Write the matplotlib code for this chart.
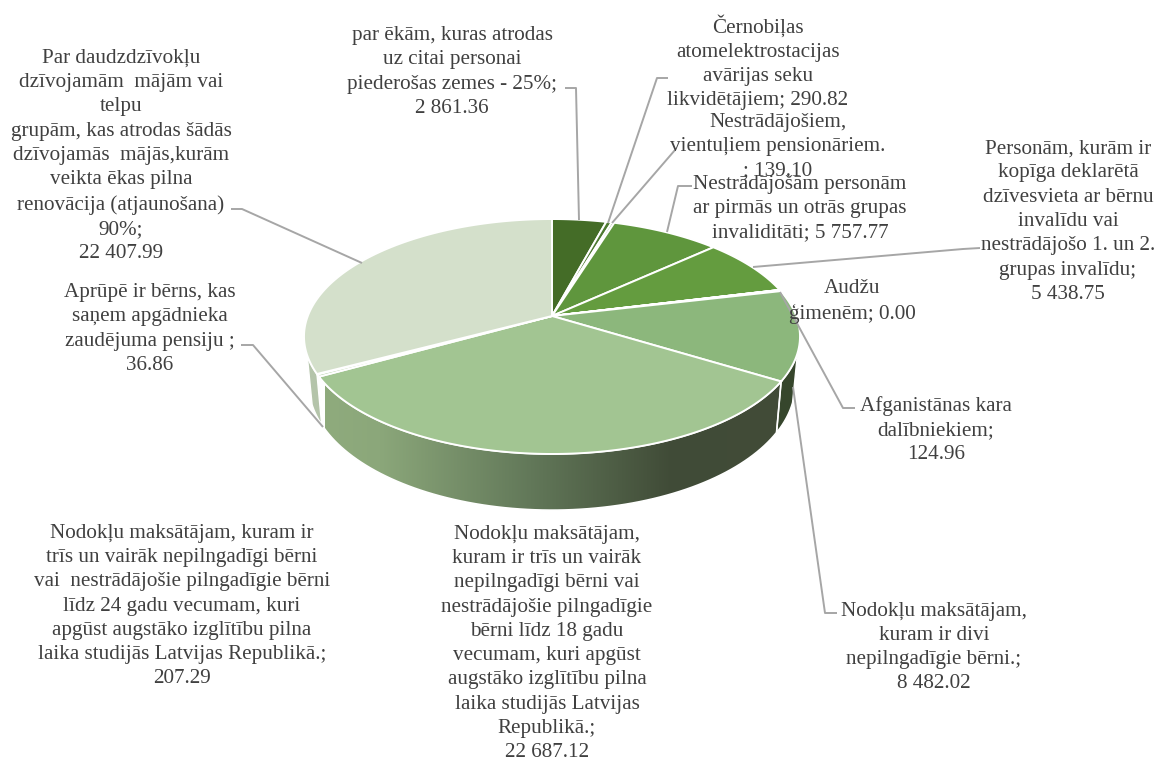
import numpy as np
import matplotlib
matplotlib.use("Agg")
import matplotlib.pyplot as plt
from matplotlib.path import Path
from matplotlib.transforms import Transform, Affine2D

# ---- data ----
values = [2861.36, 290.82, 139.10, 5757.77, 5438.75, 0.00, 124.96,
          8482.02, 22687.12, 207.29, 36.86, 22407.99]
labels = [
    "par ēkām, kuras atrodas\nuz citai personai\npiederošas zemes - 25%;\n2 861.36",
    "Černobiļas\natomelektrostacijas\navārijas seku\nlikvidētājiem; 290.82",
    "Nestrādājošiem,\nvientuļiem pensionāriem.\n; 139.10",
    "Nestrādājošām personām\nar pirmās un otrās grupas\ninvaliditāti; 5 757.77",
    "Personām, kurām ir\nkopīga deklarētā\ndzīvesvieta ar bērnu\ninvalīdu vai\nnestrādājošo 1. un 2.\ngrupas invalīdu;\n5 438.75",
    "Audžu\nģimenēm; 0.00",
    "Afganistānas kara\ndalībniekiem;\n124.96",
    "Nodokļu maksātājam,\nkuram ir divi\nnepilngadīgie bērni.;\n8 482.02",
    "Nodokļu maksātājam,\nkuram ir trīs un vairāk\nnepilngadīgi bērni vai\nnestrādājošie pilngadīgie\nbērni līdz 18 gadu\nvecumam, kuri apgūst\naugstāko izglītību pilna\nlaika studijās Latvijas\nRepublikā.;\n22 687.12",
    "Nodokļu maksātājam, kuram ir\ntrīs un vairāk nepilngadīgi bērni\nvai  nestrādājošie pilngadīgie bērni\nlīdz 24 gadu vecumam, kuri\napgūst augstāko izglītību pilna\nlaika studijās Latvijas Republikā.;\n207.29",
    "Aprūpē ir bērns, kas\nsaņem apgādnieka\nzaudējuma pensiju ;\n36.86",
    "Par daudzdzīvokļu\ndzīvojamām  mājām vai\ntelpu\ngrupām, kas atrodas šādās\ndzīvojamās  mājās,kurām\nveikta ēkas pilna\nrenovācija (atjaunošana)\n90%;\n22 407.99",
]
slice_colors = ["#446C27", "#4E7A31", "#578A38", "#5F963D", "#649C3F", "#73A956",
                "#80B06A", "#8CB77C", "#A2C592", "#B5D0A8", "#C6DBBC", "#D4E0CB"]

# ---- layout ----
label_xy = [(452, 72), (758, 62.5), (778, 146.5), (800, 208.5), (1068, 221.5), (852, 301.5),
            (936, 430), (934, 647.5), (547, 643.5), (182, 606), (150, 329), (121, 156)]
leaders = [
    [(565, 88), (576, 88), (579, 220)],
    [(668, 78), (657, 78), (608, 223)],
    [(675, 150), (612, 223)],
    [(692, 186), (678, 186), (667, 232)],
    [(980, 248), (963, 249), (753, 267)],
    [(855, 408), (843, 408), (780, 292)],
    [(837, 613), (825, 613), (793, 387)],
    [(231, 209), (242, 209), (362, 263)],
    [(241, 345), (253, 345), (323, 427)],
]
CX, CY, A, B, Q = 552.0, 316.0, 244.2, 113.9, 0.1745


class Perspective(Transform):
    """Projects the flat unit pie on to the tilted disc (output in pixels)."""
    input_dims = output_dims = 2
    is_separable = False
    has_inverse = False

    def __init__(self, sx=1.0, sy=1.0, drop=0.0):
        super().__init__()
        self.sx, self.sy, self.drop = sx, sy, drop

    def transform_non_affine(self, xy):
        xy = np.asarray(xy, float)
        w = 1 + Q * xy[:, 1]
        return np.column_stack([CX + self.sx * A * xy[:, 0] / w,
                                CY + self.drop - self.sy * B * xy[:, 1] / w])

    def transform_path_non_affine(self, path):
        scaled = path.transformed(Affine2D().scale(2000))
        polys = scaled.to_polygons(closed_only=False)
        return Path(self.transform_non_affine(np.vstack(polys) / 2000))


top = Perspective()
bottom = Perspective(sx=0.98, sy=1.07, drop=46.5)

fig = plt.figure(figsize=(11.6, 7.6), dpi=100)
ax = fig.add_axes([0, 0, 1, 1])

wedges, _ = ax.pie(values, colors=slice_colors, startangle=90, counterclock=False,
                   radius=1, wedgeprops=dict(edgecolor="white", linewidth=1.4, zorder=3))
for w in wedges:
    w.set_transform(top + ax.transData)
ax.set_aspect("auto")
ax.set_xlim(0, 1160)
ax.set_ylim(760, 0)
ax.axis("off")


def wall(a0, a1):
    t = np.radians(np.linspace(a0, a1, 80))
    pts = np.column_stack([np.sin(t), np.cos(t)])
    return np.vstack([top.transform(pts), bottom.transform(pts)[::-1]])


# slice boundaries, clockwise from the top, in degrees
edges = np.concatenate([[0], np.cumsum(values)]) / np.sum(values) * 360
VIS_R, VIS_L = 108.0, 251.0

# wall of the big front slice, with the horizontal gradient
poly = wall(edges[8], edges[9])
patch = ax.fill(poly[:, 0], poly[:, 1], color="none", ec="none", zorder=1)[0]
grad_x = np.array([0.0, 0.12, 0.45, 0.76, 1.0])
grad_c = np.array([[0x8F, 0xAB, 0x7D], [0x8B, 0xA7, 0x7A], [0x62, 0x78, 0x59],
                   [0x40, 0x4B, 0x37], [0x42, 0x4C, 0x38]]) / 255
xs = np.linspace(0, 1, 256)
img = np.stack([np.interp(xs, grad_x, grad_c[:, i]) for i in range(3)], axis=-1)[None, :, :]
im = ax.imshow(img, extent=(325, 782, 520, 370), aspect="auto", zorder=1)
im.set_clip_path(patch)
ax.set_xlim(0, 1160)
ax.set_ylim(760, 0)
ax.plot(poly[:, 0].tolist() + [poly[0, 0]], poly[:, 1].tolist() + [poly[0, 1]],
        color="white", lw=1.2, zorder=1.5)

# other visible walls
for a0, a1, col in [(VIS_R, edges[8], "#36462C"),
                    (edges[9], edges[10], "#A9BC9C"),
                    (edges[10], edges[11], "#B9C8AF"),
                    (edges[11], VIS_L, "#B4C4AA")]:
    p = wall(a0, a1)
    ax.fill(p[:, 0], p[:, 1], facecolor=col, edgecolor="white", linewidth=1.0, zorder=1)

# leader lines
for line in leaders:
    xy = np.array(line)
    ax.plot(xy[:, 0], xy[:, 1], color="#A6A6A6", lw=1.4, zorder=4, solid_capstyle="butt")

# labels
for text, (x, y) in zip(labels, label_xy):
    ax.text(x, y, text, ha="center", va="center", multialignment="center",
            family="Liberation Serif", fontsize=15.2, color="#404040",
            linespacing=1.375, zorder=5)

fig.savefig("out.png", dpi=100)
